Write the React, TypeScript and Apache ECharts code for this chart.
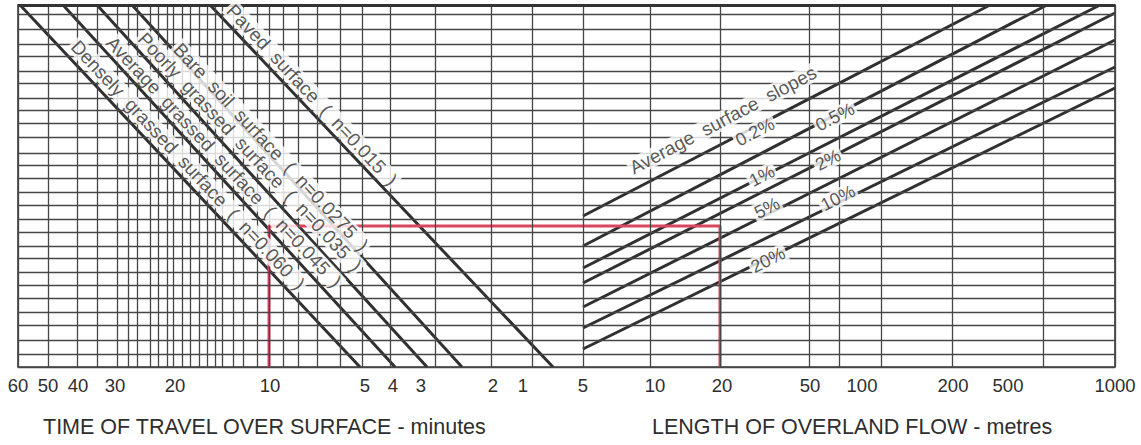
import React, { useEffect, useRef } from "react";
import * as echarts from "echarts";

// Nomograph coordinates (chart units along the drawing, x to the right, y upward)
const X_MAX = 1097;
const Y_MAX = 362;

// vertical rulings of the chart paper
const X_GRID = [
  0, 30, 59, 79, 99, 110, 119, 132, 140, 149, 155, 164, 172, 181, 189, 197, 204, 215, 225, 239,
  251, 265, 280, 299, 322, 344, 372, 417, 473, 514, 565, 632, 702, 791, 821, 863, 934, 1025, 1097,
];
// horizontal rulings of the chart paper
const Y_GRID = [
  362, 353, 338, 323, 311, 296, 284, 269, 257, 244, 230, 214, 202, 189, 175, 162, 148, 135, 121,
  109, 95, 82, 69, 55, 42, 27, 13, 0,
];

// time of travel scale (minutes)
const TIME_TICK_POS = [0, 30, 60, 97, 157, 252, 347, 375, 403, 475, 505];
const TIME_TICK_LABELS = ["60", "50", "40", "30", "20", "10", "5", "4", "3", "2", "1"];
// length of overland flow scale (metres)
const LENGTH_TICK_POS = [565, 637, 704, 792, 844, 935, 990, 1097];
const LENGTH_TICK_LABELS = ["5", "10", "20", "50", "100", "200", "500", "1000"];

// surface type lines
const SURFACE_NAMES = [
  "Densely  grassed  surface  (  n=0.060  )",
  "Average  grassed  surface  (  n=0.045  )",
  "Poorly  grassed  surface  (  n=0.035  )",
  "Bare  soil  surface  (  n=0.0275  )",
  "Paved  surface  (  n=0.015  )",
];
const SURFACE_START = [[2, 362], [45, 362], [79, 362], [114, 362], [192, 362]];
const SURFACE_END = [[342, 0], [377, 0], [409, 0], [444, 0], [535, 0]];
const SURFACE_LABEL_POS = [[170, 202], [206, 205], [232, 215], [253, 220], [294, 272]];

// average surface slope lines
const SLOPE_NAMES = ["0.2%", "0.5%", "1%", "2%", "5%", "10%", "20%"];
const SLOPE_START = [[565, 151], [565, 121], [565, 99], [565, 84], [565, 60], [565, 39], [565, 18]];
const SLOPE_END = [[972, 362], [1029, 362], [1082, 362], [1097, 354], [1097, 327], [1097, 300], [1097, 279]];
const SLOPE_LABEL_POS = [[737, 235], [817, 250], [744, 191], [810, 207], [749, 159], [820, 169], [750, 107]];
const SLOPE_TITLE = "Average  surface  slopes";
const SLOPE_TITLE_POS = [705, 247];

// worked example (red)
const EXAMPLE_PATH = [[251, 0], [251, 141], [702, 141], [702, 0]];

const TICK_LABEL_MAP: Record<number, string> = {};
TIME_TICK_POS.forEach((p, i) => (TICK_LABEL_MAP[p] = TIME_TICK_LABELS[i]));
LENGTH_TICK_POS.forEach((p, i) => (TICK_LABEL_MAP[p] = LENGTH_TICK_LABELS[i]));

const GRID_COLOR = "#464646";
const LINE_COLOR = "#303030";
const TEXT_COLOR = "#2e2e2e";
const FONT = "Liberation Sans, Arial, sans-serif";

export default function App() {
  const ref = useRef<HTMLDivElement>(null);

  useEffect(() => {
    if (!ref.current) return;
    const chart = echarts.init(ref.current, undefined, { renderer: "svg" });

    const series: any[] = [];

    // paper rulings
    series.push({
      type: "line",
      data: [],
      z: 0,
      silent: true,
      markLine: {
        silent: true,
        symbol: ["none", "none"],
        label: { show: false },
        animation: false,
        lineStyle: { color: GRID_COLOR, width: 1.3, type: "solid" },
        data: [
          ...X_GRID.map((v) => ({ xAxis: v })),
          ...Y_GRID.map((v) => ({ yAxis: v })),
          { yAxis: Y_MAX, lineStyle: { width: 2.8, color: "#333" } },
        ],
      },
    });

    SURFACE_NAMES.forEach((name, i) => {
      series.push({
        type: "line",
        name,
        data: [SURFACE_START[i], SURFACE_END[i]],
        symbol: "none",
        z: 3,
        silent: true,
        lineStyle: { color: LINE_COLOR, width: 3 },
      });
    });

    SLOPE_NAMES.forEach((name, i) => {
      series.push({
        type: "line",
        name,
        data: [SLOPE_START[i], SLOPE_END[i]],
        symbol: "none",
        z: 3,
        silent: true,
        lineStyle: { color: LINE_COLOR, width: 3 },
      });
    });

    // red worked example
    series.push({
      type: "line",
      data: EXAMPLE_PATH,
      symbol: "none",
      z: 4,
      silent: true,
      lineStyle: { color: "#d9475f", width: 3 },
    });

    const labelItem = (name: string, pos: number[], rotate: number, size: number) => ({
      name,
      value: pos,
      label: {
        show: true,
        position: "inside",
        formatter: name,
        rotate,
        fontSize: size,
        fontFamily: FONT,
        color: TEXT_COLOR,
        backgroundColor: "#ffffff",
        padding: [0, 2],
        align: "center",
        verticalAlign: "middle",
      },
    });

    series.push({
      type: "scatter",
      z: 5,
      silent: true,
      symbolSize: 1,
      itemStyle: { color: "rgba(0,0,0,0)" },
      data: [
        ...SURFACE_NAMES.map((n, i) => labelItem(n, SURFACE_LABEL_POS[i], -47, 19)),
        ...SLOPE_NAMES.map((n, i) => labelItem(n, SLOPE_LABEL_POS[i], 27, 18)),
        labelItem(SLOPE_TITLE, SLOPE_TITLE_POS, 28, 19),
      ],
    });

    chart.setOption({
      animation: false,
      backgroundColor: "#ffffff",
      title: [
        {
          text: "TIME OF TRAVEL OVER SURFACE - minutes",
          left: 43,
          top: 416,
          padding: 0,
          textStyle: { fontSize: 21.5, fontWeight: "normal", color: TEXT_COLOR, fontFamily: FONT },
        },
        {
          text: "LENGTH OF OVERLAND FLOW - metres",
          left: 652,
          top: 416,
          padding: 0,
          textStyle: { fontSize: 21.5, fontWeight: "normal", color: TEXT_COLOR, fontFamily: FONT },
        },
      ],
      grid: {
        left: 18,
        right: 26,
        top: 5,
        bottom: 78,
        show: true,
        borderColor: "#3a3a3a",
        borderWidth: 1.6,
        backgroundColor: "transparent",
      },
      xAxis: {
        type: "value",
        min: 0,
        max: X_MAX,
        axisLine: { show: false },
        axisTick: { show: false },
        splitLine: { show: false },
        axisLabel: {
          customValues: [...TIME_TICK_POS, ...LENGTH_TICK_POS],
          formatter: (v: number) => TICK_LABEL_MAP[Math.round(v)] ?? "",
          fontSize: 18.5,
          fontFamily: FONT,
          color: TEXT_COLOR,
          margin: 9,
          showMinLabel: true,
          showMaxLabel: true,
        },
      },
      yAxis: {
        type: "value",
        min: 0,
        max: Y_MAX,
        show: false,
        splitLine: { show: false },
      },
      series,
    });

    return () => chart.dispose();
  }, []);

  return (
    <div
      ref={ref}
      style={{ position: "fixed", left: 0, top: 0, width: 1141, height: 445, background: "#fff" }}
    />
  );
}
